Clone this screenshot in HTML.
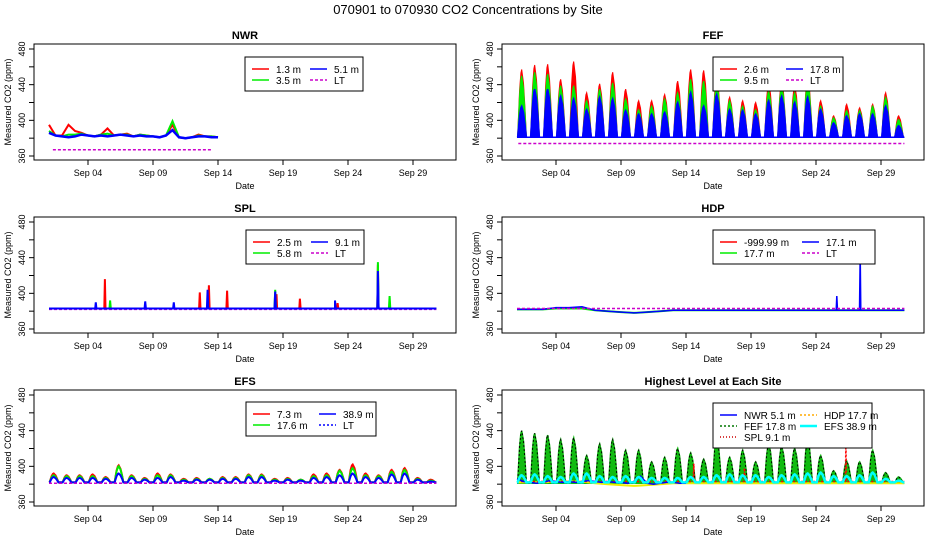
<!DOCTYPE html>
<html><head><meta charset="utf-8">
<style>
html,body{margin:0;padding:0;background:#fff;}
svg{display:block;font-family:"Liberation Sans",sans-serif;}
</style></head>
<body>
<svg id="chart" width="936" height="540" viewBox="0 0 936 540" xmlns="http://www.w3.org/2000/svg">
<rect width="936" height="540" fill="#fff"/>
<text x="468" y="14" text-anchor="middle" font-size="13">070901  to  070930 CO2 Concentrations by Site</text>
</svg>
<script>
// ---- data (ppm) ----
const tickDays = [4, 9, 14, 19, 24, 29];
const tickLabels = ["Sep 04","Sep 09","Sep 14","Sep 19","Sep 24","Sep 29"];
const yTicks = [360, 380, 400, 420, 440, 460, 480];
const yLabels = [360, 400, 440, 480];
// FEF daily peaks
const fefRed   = [457,462,463,446,466,431,441,454,435,422,422,429,444,457,456,450,426,422,420,442,444,439,450,422,405,418,414,418,431,405];
const fefGreen = [450,454,452,439,439,422,435,442,424,412,416,424,431,446,444,442,422,416,412,433,439,431,444,416,403,411,411,416,426,401];
const fefBlue  = [416,435,435,427,424,412,426,424,411,407,407,409,420,431,416,429,412,411,407,422,427,420,426,412,397,405,407,407,416,394];
const fefBase = 381;
// NWR half-day values from Sep 01
const nwrRed   = [395,383,383,395,388,386,383,382,384,391,383,384,385,382,384,383,382,381,383,395,381,380,381,384,382,382,381];
const nwrGreen = [388,383,382,384,384,385,383,382,384,385,383,384,384,382,384,383,382,381,383,399,381,380,381,383,382,382,381];
const nwrBlue  = [386,383,382,381,382,384,383,382,383,382,383,384,383,382,383,382,382,381,383,389,381,380,381,382,382,381,381];
// SPL daily base + spikes [day, ppm]
const splBase = [383,383,383,383,383,383,383,383,383,383,383,383,383,383,383,383,383,383,383,383,383,383,383,383,383,383,383,383,383,383];
const splRedSpikes   = [[5.3,416],[12.6,401],[13.3,409],[14.7,403],[18.5,399],[20.3,394],[23.2,389],[26.3,432]];
const splGreenSpikes = [[5.7,392],[18.4,404],[26.3,435],[27.2,397]];
const splBlueSpikes  = [[4.6,390],[8.4,391],[10.6,390],[13.2,404],[18.4,402],[23.0,392],[26.3,425]];
// HDP
const hdpGreenBase = [382,382,382,383,383,383,381,380,379,378,379,380,381,381,381,381,381,381,381,381,381,381,381,381,381,381,381,381,381,381];
const hdpBlueBase  = [382,382,382,384,384,385,381,380,379,378,379,380,381,381,381,381,381,381,381,381,381,381,381,381,381,381,381,381,381,381];
const hdpBlueSpikes = [[25.6,397],[27.4,444]];
// EFS daily peaks
const efsRed   = [392,390,390,391,388,401,390,387,392,391,386,387,386,388,388,391,391,386,387,385,391,392,396,402,392,390,396,398,387,385];
const efsGreen = [390,389,389,389,387,400,389,386,390,390,385,386,386,387,387,390,390,385,386,385,389,390,395,398,390,389,394,396,386,384];
const efsBlue  = [388,387,387,387,386,392,387,385,387,388,384,385,385,386,386,388,388,384,385,384,387,388,390,392,388,387,391,392,385,383];
const efsBase = 382;
// Highest level panel: FEF 17.8 m peaks and EFS 38.9 m peaks
const topFef = [440,437,435,430,432,412,425,430,418,418,405,410,420,415,408,433,410,418,405,425,422,420,430,412,395,406,405,418,393,388];
const topEfs = [390,391,389,388,392,392,389,388,389,388,387,387,387,388,388,390,391,390,390,388,390,391,392,393,389,389,390,393,386,384];
const topSplSpikes = [[18.5,398],[26.3,425],[14.6,403]];

const NS="http://www.w3.org/2000/svg";
const svg=document.getElementById('chart');
function mk(tag,attrs,parent){const e=document.createElementNS(NS,tag);for(const k in attrs)e.setAttribute(k,attrs[k]);(parent||svg).appendChild(e);return e;}

function panel(ox,oy,title,key){
  const g=mk('g',{});
  
  
  const X=d=>ox+49+(d-1)*13;
  const Y=v=>oy+156-(v-360)*107/120;
  const t=mk('text',{x:ox+245,y:oy+39,'text-anchor':'middle','font-size':11,'font-weight':'bold'},g);
  t.textContent=title;
  
  
  const box=mk('rect',{x:ox+34,y:oy+44,width:422,height:116,fill:'none',stroke:'#000','stroke-width':1},g);
  
  
  mk('line',{x1:ox+34,x2:ox+34,y1:Y(360),y2:Y(480),stroke:'#000'},g);
  yTicks.forEach(v=>mk('line',{x1:ox+29,x2:ox+34,y1:Y(v),y2:Y(v),stroke:'#000'},g));
  yLabels.forEach(v=>{const l=mk('text',{x:0,y:0,'font-size':9,'text-anchor':'middle',transform:`translate(${ox+25},${Y(v)}) rotate(-90)`},g);l.textContent=v;
    
    });
  const yt=mk('text',{x:0,y:0,'font-size':9,'text-anchor':'middle',transform:`translate(${ox+11},${oy+102}) rotate(-90)`},g);
  yt.textContent='Measured CO2 (ppm)';
  
  
  tickDays.forEach((d,i)=>{mk('line',{x1:X(d),x2:X(d),y1:oy+160,y2:oy+165,stroke:'#000'},g);
    const l=mk('text',{x:X(d),y:oy+176,'font-size':9,'text-anchor':'middle'},g);l.textContent=tickLabels[i];
    
    });
  const xt=mk('text',{x:ox+245,y:oy+189,'font-size':9,'text-anchor':'middle'},g);
  xt.textContent='Date';
  
  
  return {g,X,Y};
}
function pulsePts(peaks,base,P){
  const shape=[[0.05,0],[0.2,0.7],[0.3,0.95],[0.36,1],[0.5,0.8],[0.62,0.4],[0.72,0]];
  const pts=[[P.X(1),P.Y(base)]];
  peaks.forEach((p,i)=>{const d=1+i;shape.forEach(s=>{if(d+s[0]<=30.8)pts.push([P.X(d+s[0]),P.Y(base+(p-base)*s[1])]);});});
  pts.push([P.X(30.8),P.Y(base)]);
  return pts;
}
function seriesPts(vals,step,P){return vals.map((v,i)=>[P.X(1+i*step),P.Y(v)]);}
function withSpikes(base,spikes,P){
  let pts=base.map((v,i)=>[1+i,v]).concat([[30.8,base[base.length-1]]]);
  spikes.forEach(s=>{const b=base[Math.min(base.length-1,Math.floor(s[0])-1)];pts.push([s[0]-0.05,b],[s[0],s[1]],[s[0]+0.05,b]);});
  pts.sort((a,b)=>a[0]-b[0]);
  return pts.map(p=>[P.X(p[0]),P.Y(p[1])]);
}
function line(P,pts,color,w,name,dash,fill){
  const s=pts.map(p=>p[0].toFixed(1)+','+p[1].toFixed(1)).join(' ');
  const e=fill?mk('polygon',{points:s,fill:color,stroke:color,'stroke-width':w},P.g)
             :mk('polyline',{points:s,fill:'none',stroke:color,'stroke-width':w,'stroke-dasharray':dash||'none'},P.g);
  
  
}
function lt(P,v,d0,d1,color,name){line(P,[[P.X(d0),P.Y(v)],[P.X(d1),P.Y(v)]],color,1.5,name,'3,2');}
function legend(P,x,y,w,entries,name,rows,colW){
  const g=mk('g',{},P.g);
  
  
  const h=rows*11+12;
  mk('rect',{x,y,width:w,height:h,fill:'#fff',stroke:'#000'},g);
  entries.forEach((e,i)=>{const c=Math.floor(i/rows),r=i%rows;const lx=x+7+c*colW,ly=y+12+r*11;
    mk('line',{x1:lx,x2:lx+17,y1:ly,y2:ly,stroke:e[1],'stroke-width':e[3]||1.5,'stroke-dasharray':e[2]||'none'},g);
    const t=mk('text',{x:lx+24,y:ly+4,'font-size':10},g);t.textContent=e[0];
    
    });
}

// NWR
let P=panel(0,0,'NWR','nwr');
lt(P,367,1.3,13.6,'#c0c','lt-line');
line(P,seriesPts(nwrRed,0.5,P),'#f00',2,'nwr-1.3m-line');
line(P,seriesPts(nwrGreen,0.5,P),'#0e0',2,'nwr-3.5m-line');
line(P,seriesPts(nwrBlue,0.5,P),'#00f',2.5,'nwr-5.1m-line');
legend(P,245,57,118,[['1.3 m','#f00'],['3.5 m','#0e0'],['5.1 m','#00f'],['LT','#c0c','3,2']],'nwr-legend',2,58);

// FEF
P=panel(468,0,'FEF','fef');
lt(P,374,1.1,30.8,'#c0c','lt-line');
line(P,pulsePts(fefRed,fefBase,P),'#f00',1,'fef-2.6m-area',null,true);
line(P,pulsePts(fefGreen,fefBase,P),'#0e0',1,'fef-9.5m-area',null,true);
line(P,pulsePts(fefBlue,fefBase,P),'#00f',1.5,'fef-17.8m-area',null,true);
legend(P,713,57,130,[['2.6 m','#f00'],['9.5 m','#0e0'],['17.8 m','#00f'],['LT','#c0c','3,2']],'fef-legend',2,66);

// SPL
P=panel(0,173,'SPL','spl');
lt(P,382,1,30.8,'#c0c','lt-line');
line(P,withSpikes(splBase,splRedSpikes,P),'#f00',2,'spl-2.5m-line');
line(P,withSpikes(splBase,splGreenSpikes,P),'#0e0',2,'spl-5.8m-line');
line(P,withSpikes(splBase,splBlueSpikes,P),'#00f',2,'spl-9.1m-line');
legend(P,246,230,118,[['2.5 m','#f00'],['5.8 m','#0e0'],['9.1 m','#00f'],['LT','#c0c','3,2']],'spl-legend',2,58);

// HDP
P=panel(468,173,'HDP','hdp');
line(P,withSpikes(hdpGreenBase,[],P),'#0e0',2,'hdp-17.7m-line');
line(P,withSpikes(hdpBlueBase,hdpBlueSpikes,P),'#00f',1.5,'hdp-17.1m-line');
lt(P,383,1,30.8,'#c0c','lt-line');
legend(P,713,230,162,[['-999.99 m','#f00'],['17.7 m','#0e0'],['17.1 m','#00f'],['LT','#c0c','3,2']],'hdp-legend',2,82);

// EFS
P=panel(0,346,'EFS','efs');
line(P,pulsePts(efsRed,efsBase,P),'#f00',2,'efs-7.3m-line');
line(P,pulsePts(efsGreen,efsBase,P),'#0e0',2,'efs-17.6m-line');
line(P,pulsePts(efsBlue,efsBase,P),'#00f',2,'efs-38.9m-line');
lt(P,381,1,30.8,'#c0c','lt-line');
legend(P,246,402,130,[['7.3 m','#f00'],['17.6 m','#0e0'],['38.9 m','#00f'],['LT','#00f','2,2']],'efs-legend',2,66);

// Highest level
P=panel(468,346,'Highest Level at Each Site','highest');
line(P,pulsePts(topFef,fefBase,P),'#1b1',1.5,'highest-fef-area',null,true);
line(P,pulsePts(topFef,fefBase,P),'#000',1,'highest-fef-line','2,2');
line(P,withSpikes(hdpGreenBase,[],P),'#ee0',2,'highest-hdp-line');
line(P,withSpikes(splBase,topSplSpikes,P),'#f00',1.5,'highest-spl-line','2,2');
line(P,seriesPts(nwrBlue,0.5,P),'#00f',1.5,'highest-nwr-line');
line(P,pulsePts(topEfs,efsBase,P),'#0ff',2.5,'highest-efs-line');
legend(P,713,403,159,[['NWR  5.1 m','#00f'],['FEF  17.8 m','#070','2,2'],['SPL  9.1 m','#c00','1,2'],['HDP  17.7 m','#fa0','2,2'],['EFS  38.9 m','#0ff','',2.5]],'highest-legend',3,80);
</script>
</body></html>
